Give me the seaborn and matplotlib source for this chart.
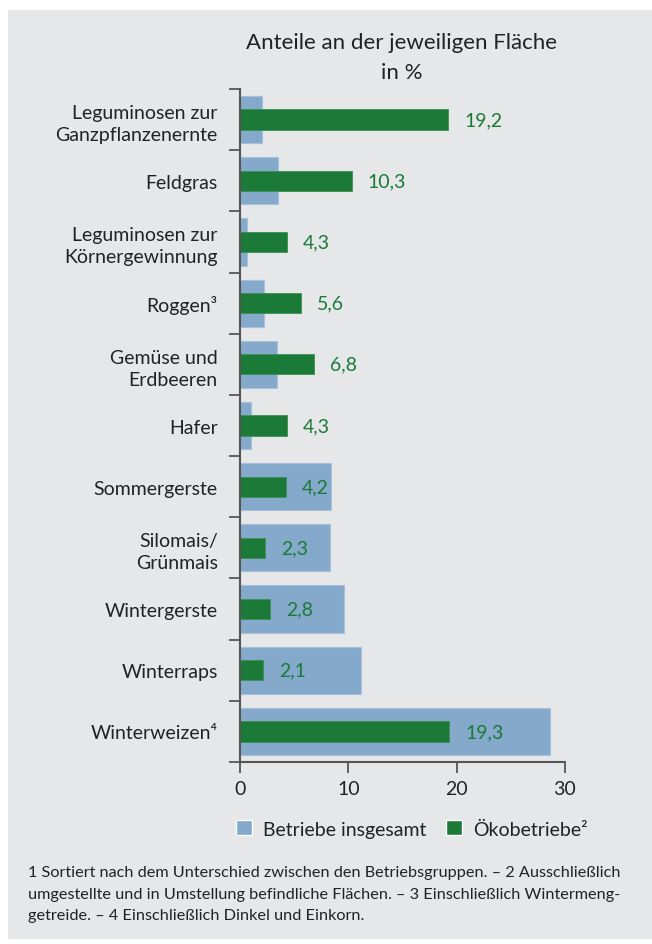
import matplotlib
matplotlib.use("Agg")
import matplotlib.pyplot as plt
import seaborn as sns
import pandas as pd
from matplotlib.patches import Rectangle

categories = [
    "Leguminosen zur\nGanzpflanzenernte",
    "Feldgras",
    "Leguminosen zur\nKörnergewinnung",
    "Roggen³",
    "Gemüse und\nErdbeeren",
    "Hafer",
    "Sommergerste",
    "Silomais/\nGrünmais",
    "Wintergerste",
    "Winterraps",
    "Winterweizen⁴",
]
betriebe_insgesamt = [2.0, 3.5, 0.65, 2.2, 3.4, 1.05, 8.4, 8.3, 9.6, 11.2, 28.6]
oekobetriebe = [19.2, 10.3, 4.3, 5.6, 6.8, 4.3, 4.2, 2.3, 2.8, 2.1, 19.3]
oeko_labels = ["19,2", "10,3", "4,3", "5,6", "6,8", "4,3", "4,2", "2,3", "2,8", "2,1", "19,3"]
x_ticks = [0, 10, 20, 30]
title = "Anteile an der jeweiligen Fläche\nin %"
legend_labels = ["Betriebe insgesamt", "Ökobetriebe²"]
footnote = ("1 Sortiert nach dem Unterschied zwischen den Betriebsgruppen. – 2 Ausschließlich\n"
            "umgestellte und in Umstellung befindliche Flächen. – 3 Einschließlich Wintermeng-\n"
            "getreide. – 4 Einschließlich Dinkel und Einkorn.")

BLUE = "#84a9cb"
GREEN = "#1b7a37"
BG = "#e6e7e9"
TXT = "#222222"
AX = "#555555"

sns.set_theme(style="white")
plt.rcParams["font.family"] = ["Lato", "DejaVu Sans"]

df = pd.DataFrame({"cat": categories, "ges": betriebe_insgesamt, "oeko": oekobetriebe})

W, H = 652, 945
fig = plt.figure(figsize=(W / 100, H / 100), dpi=100)
fig.patch.set_facecolor("white")
bg = Rectangle((8 / W, (H - 940) / H), (W - 8) / W, (940 - 11) / H,
               transform=fig.transFigure, facecolor=BG, edgecolor="none", zorder=-10)
fig.add_artist(bg)

ax = fig.add_axes([240 / W, 1 - 763 / H, (565 - 240) / W, (763 - 90) / H])
ax.set_facecolor("none")
ax.set_zorder(1)

sns.barplot(data=df, y="cat", x="ges", orient="h", color=BLUE, width=0.77,
            edgecolor="#a8c1da", linewidth=0.8, saturation=1, ax=ax, order=categories)
sns.barplot(data=df, y="cat", x="oeko", orient="h", color=GREEN, width=0.33,
            edgecolor="#3c8f55", linewidth=0.6, saturation=1, ax=ax, order=categories)

for i, (v, lab) in enumerate(zip(oekobetriebe, oeko_labels)):
    ax.annotate(lab, xy=(v, i), xytext=(16, 0), textcoords="offset pixels",
                ha="left", va="center", color=GREEN, fontsize=14)

ax.set_xlim(0, 30)
ax.set_ylim(len(categories) - 0.5, -0.5)
ax.set_xticks(x_ticks)
ax.set_xticklabels([str(t) for t in x_ticks], fontsize=14, color=TXT)
ax.set_yticks(range(len(categories)))
ax.set_yticklabels(categories, fontsize=14, color=TXT, linespacing=1.35)
ax.set_yticks([i - 0.5 for i in range(len(categories) + 1)], minor=True)
ax.tick_params(axis="y", which="major", left=False, length=0, pad=16)
ax.tick_params(axis="y", which="minor", left=True, length=8, width=1.3, color=AX, direction="out")
ax.tick_params(axis="x", which="major", bottom=True, length=8, width=1.3, color=AX, direction="out", pad=5)
ax.set_xlabel("")
ax.set_ylabel("")
for s in ["top", "right"]:
    ax.spines[s].set_visible(False)
for s in ["left", "bottom"]:
    ax.spines[s].set_color(AX)
    ax.spines[s].set_linewidth(1.5)

fig.text(402 / W, 1 - 33 / H, title, ha="center", va="top", fontsize=16, color=TXT, linespacing=1.6)

handles = [Rectangle((0, 0), 1, 1, facecolor=BLUE), Rectangle((0, 0), 1, 1, facecolor=GREEN)]
fig.legend(handles, legend_labels, loc="center", bbox_to_anchor=(412 / W, 1 - 830 / H),
           ncol=2, frameon=False, fontsize=14, handlelength=0.8, handleheight=0.8,
           handletextpad=0.6, columnspacing=1.0, labelcolor=TXT)

fig.text(28 / W, 1 - 866 / H, footnote, ha="left", va="top", fontsize=11.7, color=TXT, linespacing=1.7)

fig.savefig("out.png", dpi=100, facecolor="white")
